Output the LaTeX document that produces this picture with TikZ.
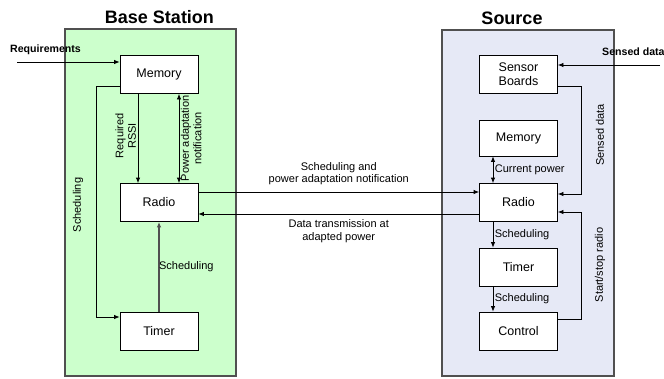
\documentclass[tikz,border=0pt]{standalone}
\usepackage{fontspec}
\setmainfont{Liberation Sans}
\usetikzlibrary{arrows.meta,positioning,calc}
\definecolor{bsgreen}{HTML}{CCFFCC}
\definecolor{srcblue}{HTML}{E6E9F6}
\definecolor{edgegray}{HTML}{505050}

\begin{document}
\begin{tikzpicture}[x=1pt,y=-1pt,
  >={Latex[length=5.5pt,width=4.5pt]},
  area/.style={draw=edgegray,line width=1.1pt,inner sep=0pt},
  unit/.style={draw=black,fill=white,line width=0.8pt,align=center,
    minimum width=78pt,minimum height=38pt,inner sep=2pt,font=\fontsize{12.5}{14}\selectfont},
  lbl/.style={font=\fontsize{11}{12.5}\selectfont,align=center,inner sep=1.5pt},
  extlbl/.style={font=\fontsize{10.6}{12}\selectfont\bfseries,inner sep=0pt},
  title/.style={font=\fontsize{18}{20}\selectfont\bfseries},
  link/.style={->,line width=0.8pt}]
  \useasboundingbox (0,0) rectangle (664,378);
  % the two sides
  \node[area,fill=bsgreen,minimum width=171pt,minimum height=347pt] (bs) at (150.5,202.5) {};
  \node[area,fill=srcblue,minimum width=172pt,minimum height=346pt] (src) at (528,203) {};
  \node[title] (bstitle) at (159.5,17) {Base Station};
  \node[title] (srctitle) at (512,18) {Source};
  % base station units
  \node[unit] (bsmem) at (159,74.5) {Memory};
  \node[unit] (bsradio) at (159,202.5) {Radio};
  \node[unit] (bstimer) at (159,331) {Timer};
  % source units
  \node[unit] (srcsensor) at (518.5,74) {Sensor\\Boards};
  \node[unit,minimum height=36pt] (srcmem) at (518.5,138) {Memory};
  \node[unit] (srcradio) at (518.5,202.5) {Radio};
  \node[unit] (srctimer) at (518.5,267) {Timer};
  \node[unit] (srccontrol) at (518.5,331) {Control};
  % inputs from outside
  \coordinate (reqin) at (17,62);
  \draw[link] (reqin) -- (reqin -| bsmem.west);
  \node[extlbl,anchor=west] (reqlbl) at (10,50) {Requirements};
  \coordinate (sensin) at (660,65);
  \draw[link] (sensin) -- (sensin -| srcsensor.east);
  \node[extlbl,anchor=west] (senslbl) at (602,52) {Sensed data};
  % inside the base station
  \draw[link] ([xshift=-21pt]bsmem.south) -- node[lbl,pos=0.47,rotate=90,anchor=south] {Required\\RSSI} ([xshift=-21pt]bsradio.north);
  \draw[link,<->] ([xshift=20pt]bsmem.south) -- node[lbl,pos=0.5,rotate=90,anchor=north] {Power adaptation\\notification} ([xshift=20pt]bsradio.north);
  \draw[link] ([yshift=-12pt]bsmem.west) -- ++(-23,0) |- ([yshift=14pt]bstimer.west);
  \node[lbl,rotate=90] (bsschedlbl) at (78,205) {Scheduling};
  \draw[link,draw=edgegray,line width=1.2pt] (bstimer) -- node[lbl,pos=0.5,anchor=west,xshift=-2pt] {Scheduling} (bsradio);
  % between the two radios
  \draw[link] ([yshift=10.5pt]bsradio.east) -- node[lbl,above=5pt] {Scheduling and\\power adaptation notification} ([yshift=10.5pt]srcradio.west);
  \draw[link] ([yshift=-11.5pt]srcradio.west) -- node[lbl,below=4pt] {Data transmission at\\adapted power} ([yshift=-11.5pt]bsradio.east);
  % inside the source
  \draw[link,<->] ([xshift=-25.5pt]srcmem.south) -- node[lbl,right] {Current power} ([xshift=-25.5pt]srcradio.north);
  \draw[link] ([xshift=-25.5pt]srcradio.south) -- node[lbl,right] {Scheduling} ([xshift=-25.5pt]srctimer.north);
  \draw[link] ([xshift=-25.5pt]srctimer.south) -- node[lbl,right] {Scheduling} ([xshift=-25.5pt]srccontrol.north);
  \draw[link] ([yshift=-12pt]srcsensor.east) -- ++(23,0) |- ([yshift=8.5pt]srcradio.east);
  \draw[link] ([yshift=12pt]srccontrol.east) -- ++(23,0) |- ([yshift=-9.5pt]srcradio.east);
  \node[lbl,rotate=90] (sensedlbl) at (600,135) {Sensed data};
  \node[lbl,rotate=90] (startlbl) at (600,265) {Start/stop radio};
\end{tikzpicture}
\end{document}
